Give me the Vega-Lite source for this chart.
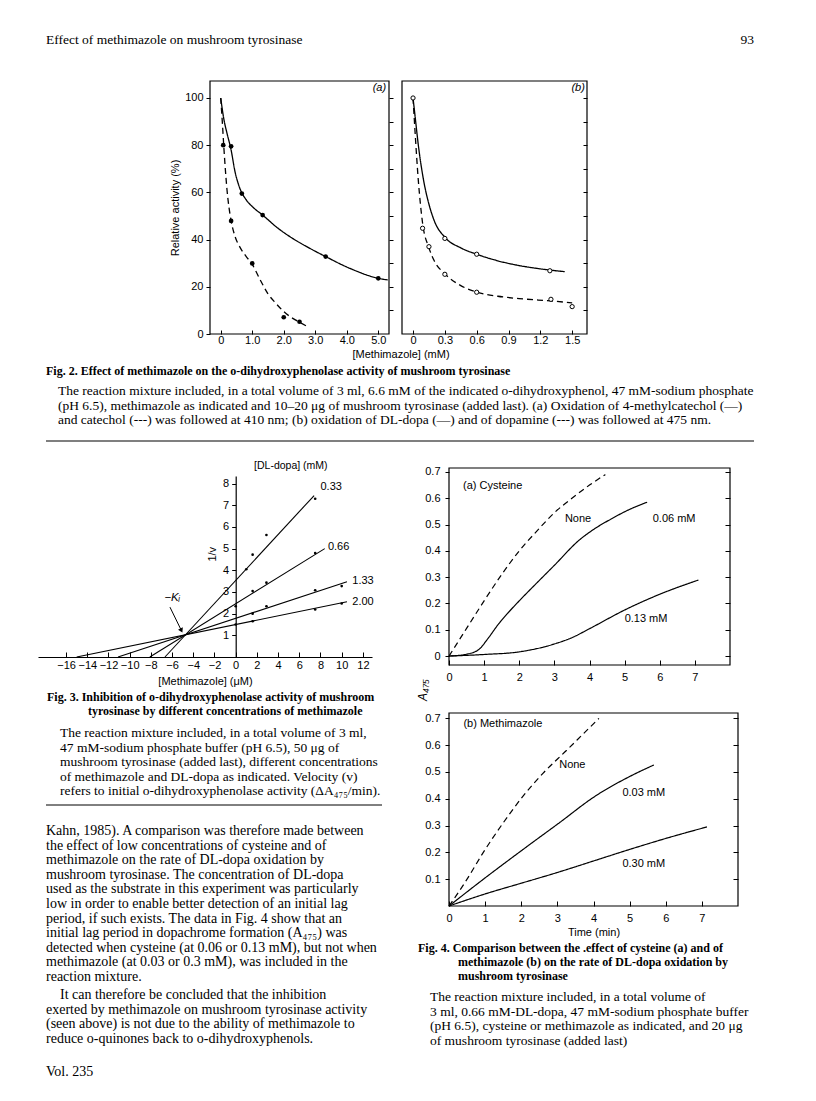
{
  "$schema": "https://vega.github.io/schema/vega-lite/v6.json",
  "background": "white",
  "padding": 0,
  "autosize": {"type": "none"},
  "width": 816,
  "height": 1101,
  "datasets": {
    "texts": [
      {"block": "hdr", "line": 0, "text": "Effect of methimazole on mushroom tyrosinase"},
      {"block": "pg", "line": 0, "text": "93"},
      {"block": "f2x", "line": 0, "text": "[Methimazole] (mM)"},
      {"block": "f2cap", "line": 0, "text": "Fig. 2. Effect of methimazole on the o-dihydroxyphenolase activity of mushroom tyrosinase"},
      {"block": "f2para", "line": 0, "text": "The reaction mixture included, in a total volume of 3 ml, 6.6 mM of the indicated o-dihydroxyphenol, 47 mM-sodium phosphate"},
      {"block": "f2para", "line": 1, "text": "(pH 6.5), methimazole as indicated and 10–20 μg of mushroom tyrosinase (added last). (a) Oxidation of 4-methylcatechol (—)"},
      {"block": "f2para", "line": 2, "text": "and catechol (---) was followed at 410 nm; (b) oxidation of DL-dopa (—) and of dopamine (---) was followed at 475 nm."},
      {"block": "f3capA", "line": 0, "text": "Fig. 3. Inhibition of o-dihydroxyphenolase activity of mushroom"},
      {"block": "f3capB", "line": 0, "text": "tyrosinase by different concentrations of methimazole"},
      {"block": "f3para", "line": 0, "text": "The reaction mixture included, in a total volume of 3 ml,"},
      {"block": "f3para", "line": 1, "text": "47 mM-sodium phosphate buffer (pH 6.5), 50 μg of"},
      {"block": "f3para", "line": 2, "text": "mushroom tyrosinase (added last), different concentrations"},
      {"block": "f3para", "line": 3, "text": "of methimazole and DL-dopa as indicated. Velocity (v)"},
      {"block": "f3para", "line": 4, "text": "refers to initial o-dihydroxyphenolase activity (ΔA₄₇₅/min)."},
      {"block": "b1", "line": 0, "text": "Kahn, 1985). A comparison was therefore made between"},
      {"block": "b1", "line": 1, "text": "the effect of low concentrations of cysteine and of"},
      {"block": "b1", "line": 2, "text": "methimazole on the rate of DL-dopa oxidation by"},
      {"block": "b1", "line": 3, "text": "mushroom tyrosinase. The concentration of DL-dopa"},
      {"block": "b1", "line": 4, "text": "used as the substrate in this experiment was particularly"},
      {"block": "b1", "line": 5, "text": "low in order to enable better detection of an initial lag"},
      {"block": "b1", "line": 6, "text": "period, if such exists. The data in Fig. 4 show that an"},
      {"block": "b1", "line": 7, "text": "initial lag period in dopachrome formation (A₄₇₅) was"},
      {"block": "b1", "line": 8, "text": "detected when cysteine (at 0.06 or 0.13 mM), but not when"},
      {"block": "b1", "line": 9, "text": "methimazole (at 0.03 or 0.3 mM), was included in the"},
      {"block": "b1", "line": 10, "text": "reaction mixture."},
      {"block": "b2i", "line": 0, "text": "It can therefore be concluded that the inhibition"},
      {"block": "b2", "line": 1, "text": "exerted by methimazole on mushroom tyrosinase activity"},
      {"block": "b2", "line": 2, "text": "(seen above) is not due to the ability of methimazole to"},
      {"block": "b2", "line": 3, "text": "reduce o-quinones back to o-dihydroxyphenols."},
      {"block": "vol", "line": 0, "text": "Vol. 235"},
      {"block": "f4capA", "line": 0, "text": "Fig. 4. Comparison between the .effect of cysteine (a) and of"},
      {"block": "f4capB", "line": 0, "text": "methimazole (b) on the rate of DL-dopa oxidation by"},
      {"block": "f4capB", "line": 1, "text": "mushroom tyrosinase"},
      {"block": "f4para", "line": 0, "text": "The reaction mixture included, in a total volume of"},
      {"block": "f4para", "line": 1, "text": "3 ml, 0.66 mM-DL-dopa, 47 mM-sodium phosphate buffer"},
      {"block": "f4para", "line": 2, "text": "(pH 6.5), cysteine or methimazole as indicated, and 20 μg"},
      {"block": "f4para", "line": 3, "text": "of mushroom tyrosinase (added last)"},
      {"block": "a475", "line": 0, "text": "A₄₇₅"}
    ],
    "fig2": [
      {"panel": "a", "series": "4-methylcatechol", "kind": "curve", "x": 0, "y": 100},
      {"panel": "a", "series": "4-methylcatechol", "kind": "curve", "x": 0.1, "y": 91},
      {"panel": "a", "series": "4-methylcatechol", "kind": "curve", "x": 0.2, "y": 85},
      {"panel": "a", "series": "4-methylcatechol", "kind": "curve", "x": 0.33, "y": 78},
      {"panel": "a", "series": "4-methylcatechol", "kind": "curve", "x": 0.45, "y": 69},
      {"panel": "a", "series": "4-methylcatechol", "kind": "curve", "x": 0.6, "y": 62},
      {"panel": "a", "series": "4-methylcatechol", "kind": "curve", "x": 0.8, "y": 57},
      {"panel": "a", "series": "4-methylcatechol", "kind": "curve", "x": 1.0, "y": 54},
      {"panel": "a", "series": "4-methylcatechol", "kind": "curve", "x": 1.33, "y": 50.4},
      {"panel": "a", "series": "4-methylcatechol", "kind": "curve", "x": 1.8, "y": 45},
      {"panel": "a", "series": "4-methylcatechol", "kind": "curve", "x": 2.2, "y": 41.2},
      {"panel": "a", "series": "4-methylcatechol", "kind": "curve", "x": 2.8, "y": 36.5},
      {"panel": "a", "series": "4-methylcatechol", "kind": "curve", "x": 3.33, "y": 32.8},
      {"panel": "a", "series": "4-methylcatechol", "kind": "curve", "x": 4.1, "y": 27.8},
      {"panel": "a", "series": "4-methylcatechol", "kind": "curve", "x": 5.0, "y": 23.6},
      {"panel": "a", "series": "4-methylcatechol", "kind": "curve", "x": 5.3, "y": 22.9},
      {"panel": "a", "series": "4-methylcatechol", "kind": "obs", "x": 0.33, "y": 79.5},
      {"panel": "a", "series": "4-methylcatechol", "kind": "obs", "x": 0.67, "y": 59.5},
      {"panel": "a", "series": "4-methylcatechol", "kind": "obs", "x": 1.33, "y": 50.4},
      {"panel": "a", "series": "4-methylcatechol", "kind": "obs", "x": 3.33, "y": 32.8},
      {"panel": "a", "series": "4-methylcatechol", "kind": "obs", "x": 5.0, "y": 23.6},
      {"panel": "a", "series": "catechol", "kind": "curve", "x": 0, "y": 100},
      {"panel": "a", "series": "catechol", "kind": "curve", "x": 0.05, "y": 90},
      {"panel": "a", "series": "catechol", "kind": "curve", "x": 0.1, "y": 79},
      {"panel": "a", "series": "catechol", "kind": "curve", "x": 0.2, "y": 61},
      {"panel": "a", "series": "catechol", "kind": "curve", "x": 0.33, "y": 48},
      {"panel": "a", "series": "catechol", "kind": "curve", "x": 0.45, "y": 41.5},
      {"panel": "a", "series": "catechol", "kind": "curve", "x": 0.6, "y": 37},
      {"panel": "a", "series": "catechol", "kind": "curve", "x": 0.8, "y": 33},
      {"panel": "a", "series": "catechol", "kind": "curve", "x": 1.0, "y": 29.5},
      {"panel": "a", "series": "catechol", "kind": "curve", "x": 1.25, "y": 23},
      {"panel": "a", "series": "catechol", "kind": "curve", "x": 1.5, "y": 17},
      {"panel": "a", "series": "catechol", "kind": "curve", "x": 1.75, "y": 13},
      {"panel": "a", "series": "catechol", "kind": "curve", "x": 2.0, "y": 9.5},
      {"panel": "a", "series": "catechol", "kind": "curve", "x": 2.3, "y": 6.5},
      {"panel": "a", "series": "catechol", "kind": "curve", "x": 2.5, "y": 5},
      {"panel": "a", "series": "catechol", "kind": "curve", "x": 2.8, "y": 2.8},
      {"panel": "a", "series": "catechol", "kind": "obs", "x": 0.08, "y": 80},
      {"panel": "a", "series": "catechol", "kind": "obs", "x": 0.33, "y": 47.9},
      {"panel": "a", "series": "catechol", "kind": "obs", "x": 1.0, "y": 29.9},
      {"panel": "a", "series": "catechol", "kind": "obs", "x": 2.0, "y": 7.1},
      {"panel": "a", "series": "catechol", "kind": "obs", "x": 2.5, "y": 5.2},
      {"panel": "b", "series": "DL-dopa", "kind": "curve", "x": 0, "y": 100},
      {"panel": "b", "series": "DL-dopa", "kind": "curve", "x": 0.02, "y": 92},
      {"panel": "b", "series": "DL-dopa", "kind": "curve", "x": 0.05, "y": 80},
      {"panel": "b", "series": "DL-dopa", "kind": "curve", "x": 0.1, "y": 65},
      {"panel": "b", "series": "DL-dopa", "kind": "curve", "x": 0.15, "y": 55},
      {"panel": "b", "series": "DL-dopa", "kind": "curve", "x": 0.2, "y": 48},
      {"panel": "b", "series": "DL-dopa", "kind": "curve", "x": 0.3, "y": 41},
      {"panel": "b", "series": "DL-dopa", "kind": "curve", "x": 0.45, "y": 36.5},
      {"panel": "b", "series": "DL-dopa", "kind": "curve", "x": 0.6, "y": 33.8},
      {"panel": "b", "series": "DL-dopa", "kind": "curve", "x": 0.8, "y": 31},
      {"panel": "b", "series": "DL-dopa", "kind": "curve", "x": 1.0, "y": 29},
      {"panel": "b", "series": "DL-dopa", "kind": "curve", "x": 1.2, "y": 27.6},
      {"panel": "b", "series": "DL-dopa", "kind": "curve", "x": 1.43, "y": 26.4},
      {"panel": "b", "series": "DL-dopa", "kind": "obs", "x": 0, "y": 100},
      {"panel": "b", "series": "DL-dopa", "kind": "obs", "x": 0.3, "y": 40.5},
      {"panel": "b", "series": "DL-dopa", "kind": "obs", "x": 0.6, "y": 33.8},
      {"panel": "b", "series": "DL-dopa", "kind": "obs", "x": 1.29, "y": 26.8},
      {"panel": "b", "series": "dopamine", "kind": "curve", "x": 0, "y": 100},
      {"panel": "b", "series": "dopamine", "kind": "curve", "x": 0.02, "y": 85},
      {"panel": "b", "series": "dopamine", "kind": "curve", "x": 0.05, "y": 65},
      {"panel": "b", "series": "dopamine", "kind": "curve", "x": 0.09, "y": 47},
      {"panel": "b", "series": "dopamine", "kind": "curve", "x": 0.15, "y": 36.5},
      {"panel": "b", "series": "dopamine", "kind": "curve", "x": 0.2, "y": 31},
      {"panel": "b", "series": "dopamine", "kind": "curve", "x": 0.3, "y": 25.5},
      {"panel": "b", "series": "dopamine", "kind": "curve", "x": 0.45, "y": 20.5},
      {"panel": "b", "series": "dopamine", "kind": "curve", "x": 0.6, "y": 17.8},
      {"panel": "b", "series": "dopamine", "kind": "curve", "x": 0.8, "y": 16},
      {"panel": "b", "series": "dopamine", "kind": "curve", "x": 1.0, "y": 15},
      {"panel": "b", "series": "dopamine", "kind": "curve", "x": 1.3, "y": 14},
      {"panel": "b", "series": "dopamine", "kind": "curve", "x": 1.5, "y": 13.2},
      {"panel": "b", "series": "dopamine", "kind": "obs", "x": 0.09, "y": 44.8},
      {"panel": "b", "series": "dopamine", "kind": "obs", "x": 0.15, "y": 37},
      {"panel": "b", "series": "dopamine", "kind": "obs", "x": 0.3, "y": 25.3},
      {"panel": "b", "series": "dopamine", "kind": "obs", "x": 0.6, "y": 17.7},
      {"panel": "b", "series": "dopamine", "kind": "obs", "x": 1.3, "y": 14.7},
      {"panel": "b", "series": "dopamine", "kind": "obs", "x": 1.5, "y": 11.6}
    ],
    "fig3lines": [
      {"conc": "0.33", "x": -6.67, "y": 0}, {"conc": "0.33", "x": 7.4, "y": 7.45},
      {"conc": "0.66", "x": -8.1, "y": 0}, {"conc": "0.66", "x": 8.4, "y": 5.0},
      {"conc": "1.33", "x": -11.1, "y": 0}, {"conc": "1.33", "x": 10.5, "y": 3.47},
      {"conc": "2.00", "x": -15.0, "y": 0}, {"conc": "2.00", "x": 10.5, "y": 2.55}
    ],
    "fig3obs": [
      {"conc": "0.33", "x": 1.0, "y": 4.05}, {"conc": "0.33", "x": 1.6, "y": 4.72}, {"conc": "0.33", "x": 2.9, "y": 5.63}, {"conc": "0.33", "x": 7.5, "y": 7.3},
      {"conc": "0.66", "x": 1.6, "y": 3.04}, {"conc": "0.66", "x": 2.9, "y": 3.43}, {"conc": "0.66", "x": 7.5, "y": 4.8},
      {"conc": "1.33", "x": 0, "y": 2.34}, {"conc": "1.33", "x": 1.6, "y": 2.0}, {"conc": "1.33", "x": 2.9, "y": 2.34}, {"conc": "1.33", "x": 7.5, "y": 3.08}, {"conc": "1.33", "x": 10, "y": 3.27},
      {"conc": "2.00", "x": 0, "y": 1.5}, {"conc": "2.00", "x": 1.6, "y": 1.65}, {"conc": "2.00", "x": 7.5, "y": 2.19}, {"conc": "2.00", "x": 10, "y": 2.47}
    ],
    "fig3lab": [
      {"text": "0.33", "x": 8.0, "y": 7.85},
      {"text": "0.66", "x": 8.7, "y": 5.07},
      {"text": "1.33", "x": 11.0, "y": 3.5},
      {"text": "2.00", "x": 11.0, "y": 2.56}
    ],
    "fig4": [
      {"panel": "a", "series": "None", "x": 0, "y": 0}, {"panel": "a", "series": "None", "x": 0.5, "y": 0.105}, {"panel": "a", "series": "None", "x": 1.0, "y": 0.21}, {"panel": "a", "series": "None", "x": 1.5, "y": 0.31}, {"panel": "a", "series": "None", "x": 2.0, "y": 0.4}, {"panel": "a", "series": "None", "x": 2.5, "y": 0.475}, {"panel": "a", "series": "None", "x": 3.0, "y": 0.545}, {"panel": "a", "series": "None", "x": 3.5, "y": 0.6}, {"panel": "a", "series": "None", "x": 4.0, "y": 0.65}, {"panel": "a", "series": "None", "x": 4.45, "y": 0.69},
      {"panel": "a", "series": "0.06 mM", "x": 0, "y": 0}, {"panel": "a", "series": "0.06 mM", "x": 0.5, "y": 0.007}, {"panel": "a", "series": "0.06 mM", "x": 0.85, "y": 0.025}, {"panel": "a", "series": "0.06 mM", "x": 1.1, "y": 0.065}, {"panel": "a", "series": "0.06 mM", "x": 1.4, "y": 0.12}, {"panel": "a", "series": "0.06 mM", "x": 1.7, "y": 0.167}, {"panel": "a", "series": "0.06 mM", "x": 2.0, "y": 0.21}, {"panel": "a", "series": "0.06 mM", "x": 2.5, "y": 0.278}, {"panel": "a", "series": "0.06 mM", "x": 3.0, "y": 0.345}, {"panel": "a", "series": "0.06 mM", "x": 3.7, "y": 0.44}, {"panel": "a", "series": "0.06 mM", "x": 4.1, "y": 0.48}, {"panel": "a", "series": "0.06 mM", "x": 4.6, "y": 0.52}, {"panel": "a", "series": "0.06 mM", "x": 5.1, "y": 0.555}, {"panel": "a", "series": "0.06 mM", "x": 5.64, "y": 0.585},
      {"panel": "a", "series": "0.13 mM", "x": 0, "y": 0}, {"panel": "a", "series": "0.13 mM", "x": 1.0, "y": 0.006}, {"panel": "a", "series": "0.13 mM", "x": 2.0, "y": 0.016}, {"panel": "a", "series": "0.13 mM", "x": 3.0, "y": 0.046}, {"panel": "a", "series": "0.13 mM", "x": 3.5, "y": 0.07}, {"panel": "a", "series": "0.13 mM", "x": 4.0, "y": 0.104}, {"panel": "a", "series": "0.13 mM", "x": 5.0, "y": 0.175}, {"panel": "a", "series": "0.13 mM", "x": 6.0, "y": 0.235}, {"panel": "a", "series": "0.13 mM", "x": 7.1, "y": 0.289},
      {"panel": "b", "series": "None", "x": 0, "y": 0}, {"panel": "b", "series": "None", "x": 0.5, "y": 0.1}, {"panel": "b", "series": "None", "x": 0.95, "y": 0.2}, {"panel": "b", "series": "None", "x": 1.5, "y": 0.31}, {"panel": "b", "series": "None", "x": 2.05, "y": 0.41}, {"panel": "b", "series": "None", "x": 2.6, "y": 0.495}, {"panel": "b", "series": "None", "x": 3.25, "y": 0.58}, {"panel": "b", "series": "None", "x": 3.7, "y": 0.64}, {"panel": "b", "series": "None", "x": 4.15, "y": 0.7},
      {"panel": "b", "series": "0.03 mM", "x": 0, "y": 0}, {"panel": "b", "series": "0.03 mM", "x": 1.05, "y": 0.11}, {"panel": "b", "series": "0.03 mM", "x": 2.05, "y": 0.211}, {"panel": "b", "series": "0.03 mM", "x": 3.05, "y": 0.31}, {"panel": "b", "series": "0.03 mM", "x": 4.05, "y": 0.41}, {"panel": "b", "series": "0.03 mM", "x": 5.0, "y": 0.483}, {"panel": "b", "series": "0.03 mM", "x": 5.67, "y": 0.526},
      {"panel": "b", "series": "0.30 mM", "x": 0, "y": 0}, {"panel": "b", "series": "0.30 mM", "x": 1.0, "y": 0.045}, {"panel": "b", "series": "0.30 mM", "x": 2.0, "y": 0.085}, {"panel": "b", "series": "0.30 mM", "x": 3.0, "y": 0.125}, {"panel": "b", "series": "0.30 mM", "x": 4.0, "y": 0.168}, {"panel": "b", "series": "0.30 mM", "x": 5.0, "y": 0.211}, {"panel": "b", "series": "0.30 mM", "x": 6.0, "y": 0.252}, {"panel": "b", "series": "0.30 mM", "x": 7.14, "y": 0.295}
    ],
    "fig4lab": [
      {"panel": "a", "text": "(a)    Cysteine", "x": 0.4, "y": 0.646},
      {"panel": "a", "text": "None", "x": 3.3, "y": 0.52},
      {"panel": "a", "text": "0.06 mM", "x": 5.8, "y": 0.52},
      {"panel": "a", "text": "0.13 mM", "x": 5.0, "y": 0.14},
      {"panel": "b", "text": "(b)    Methimazole", "x": 0.4, "y": 0.68},
      {"panel": "b", "text": "None", "x": 3.05, "y": 0.526},
      {"panel": "b", "text": "0.03 mM", "x": 4.8, "y": 0.421},
      {"panel": "b", "text": "0.30 mM", "x": 4.8, "y": 0.156}
    ]
  },
  "resolve": {"scale": {"x": "independent", "y": "independent", "strokeDash": "independent"}, "axis": {"x": "independent", "y": "independent"}},
  "layer": [
    {
      "data": {"name": "fig2"},
      "transform": [{"filter": "datum.panel === 'a'"}],
      "resolve": {"axis": {"x": "independent", "y": "independent"}},
      "layer": [
        {
          "transform": [{"filter": "datum.kind === 'curve'"}],
          "mark": {"type": "line", "interpolate": "monotone", "strokeWidth": 1.3, "color": "black"},
          "encoding": {
            "x": {"field": "x", "type": "quantitative", "scale": {"domain": [-0.34, 5.34], "range": [210, 389], "nice": false, "zero": false},
                  "axis": {"orient": "bottom", "offset": -767, "values": [0, 1, 2, 3, 4, 5], "labelExpr": "datum.value === 0 ? '0' : format(datum.value, '.1f')", "tickSize": -4, "labelPadding": 4.5, "domain": false, "title": null}},
            "y": {"field": "y", "type": "quantitative", "scale": {"domain": [0, 107.2], "range": [334, 81], "nice": false, "zero": false},
                  "axis": {"orient": "left", "offset": -210, "values": [0, 20, 40, 60, 80, 100], "tickSize": 4, "labelPadding": 3, "domain": false, "title": "Relative activity (%)", "titlePadding": 4}},
            "detail": {"field": "series"},
            "strokeDash": {"field": "series", "type": "nominal", "scale": {"domain": ["4-methylcatechol", "catechol"], "range": [[1, 0], [6, 4]]}, "legend": null}
          }
        },
        {
          "transform": [{"filter": "datum.kind === 'obs'"}],
          "mark": {"type": "point", "filled": true, "size": 22, "color": "black", "opacity": 1},
          "encoding": {
            "x": {"field": "x", "type": "quantitative", "axis": null},
            "y": {"field": "y", "type": "quantitative", "axis": null}
          }
        },
        {
          "mark": {"type": "point", "opacity": 0},
          "encoding": {
            "y": {"field": "y", "type": "quantitative", "axis": {"orient": "right", "offset": -427, "values": [10, 20, 30, 40, 50, 60, 70, 80, 90, 100], "labels": false, "tickSize": 4, "domain": false, "title": null}}
          }
        },
        {
          "data": {"values": [{"t": "(a)"}]},
          "mark": {"type": "text", "font": "Liberation Sans", "fontSize": 11, "fontStyle": "italic", "align": "right", "baseline": "middle"},
          "encoding": {
            "x": {"datum": 5.25, "type": "quantitative", "axis": null},
            "y": {"datum": 104.3, "type": "quantitative", "axis": null},
            "text": {"field": "t"}
          }
        },
        {
          "data": {"values": [{"f": 1}]},
          "mark": {"type": "rect", "filled": false, "stroke": "black", "strokeWidth": 1.2},
          "encoding": {
            "x": {"datum": -0.34, "type": "quantitative", "axis": null},
            "x2": {"datum": 5.34},
            "y": {"datum": 0, "type": "quantitative", "axis": null},
            "y2": {"datum": 107.2}
          }
        }
      ]
    },
    {
      "data": {"name": "fig2"},
      "transform": [{"filter": "datum.panel === 'b'"}],
      "resolve": {"axis": {"x": "independent", "y": "independent"}},
      "layer": [
        {
          "transform": [{"filter": "datum.kind === 'curve'"}],
          "mark": {"type": "line", "interpolate": "monotone", "strokeWidth": 1.3, "color": "black"},
          "encoding": {
            "x": {"field": "x", "type": "quantitative", "scale": {"domain": [-0.104, 1.64], "range": [402, 587], "nice": false, "zero": false},
                  "axis": {"orient": "bottom", "offset": -767, "values": [0, 0.3, 0.6, 0.9, 1.2, 1.5], "labelExpr": "datum.value === 0 ? '0' : format(datum.value, '.1f')", "tickSize": -4, "labelPadding": 4.5, "domain": false, "title": null}},
            "y": {"field": "y", "type": "quantitative", "scale": {"domain": [0, 107.2], "range": [334, 81], "nice": false, "zero": false},
                  "axis": {"orient": "right", "offset": -229, "values": [10, 20, 30, 40, 50, 60, 70, 80, 90, 100], "labels": false, "tickSize": -4, "domain": false, "title": null}},
            "detail": {"field": "series"},
            "strokeDash": {"field": "series", "type": "nominal", "scale": {"domain": ["DL-dopa", "dopamine"], "range": [[1, 0], [6, 4]]}, "legend": null}
          }
        },
        {
          "transform": [{"filter": "datum.kind === 'obs'"}],
          "mark": {"type": "point", "filled": true, "fill": "white", "stroke": "black", "strokeWidth": 1, "size": 18, "opacity": 1},
          "encoding": {
            "x": {"field": "x", "type": "quantitative", "axis": null},
            "y": {"field": "y", "type": "quantitative", "axis": null}
          }
        },
        {
          "data": {"values": [{"t": "(b)"}]},
          "mark": {"type": "text", "font": "Liberation Sans", "fontSize": 11, "fontStyle": "italic", "align": "right", "baseline": "middle"},
          "encoding": {
            "x": {"datum": 1.62, "type": "quantitative", "axis": null},
            "y": {"datum": 104.3, "type": "quantitative", "axis": null},
            "text": {"field": "t"}
          }
        },
        {
          "data": {"values": [{"f": 1}]},
          "mark": {"type": "rect", "filled": false, "stroke": "black", "strokeWidth": 1.2},
          "encoding": {
            "x": {"datum": -0.104, "type": "quantitative", "axis": null},
            "x2": {"datum": 1.64},
            "y": {"datum": 0, "type": "quantitative", "axis": null},
            "y2": {"datum": 107.2}
          }
        }
      ]
    },
    {
      "resolve": {"axis": {"x": "independent", "y": "independent"}},
      "layer": [
        {
          "data": {"name": "fig3lines"},
          "mark": {"type": "line", "strokeWidth": 1.1, "color": "black"},
          "encoding": {
            "x": {"field": "x", "type": "quantitative", "scale": {"domain": [-18.65, 12.86], "range": [38, 372], "nice": false, "zero": false},
                  "axis": {"orient": "bottom", "offset": -444, "values": [-16, -14, -12, -10, -8, -6, -4, -2, 0, 2, 4, 6, 8, 10, 12], "tickSize": -5, "labelPadding": 7, "title": "[Methimazole] (μM)", "titlePadding": 5}},
            "y": {"field": "y", "type": "quantitative", "scale": {"domain": [0, 8.35], "range": [657, 476], "nice": false, "zero": false},
                  "axis": {"orient": "left", "offset": -235.7, "values": [1, 2, 3, 4, 5, 6, 7, 8], "tickSize": 4, "labelPadding": 3, "title": null}},
            "detail": {"field": "conc"}
          }
        },
        {
          "data": {"name": "fig3obs"},
          "mark": {"type": "point", "filled": true, "size": 7, "color": "black", "opacity": 1},
          "encoding": {
            "x": {"field": "x", "type": "quantitative", "axis": null},
            "y": {"field": "y", "type": "quantitative", "axis": null}
          }
        },
        {
          "data": {"name": "fig3lab"},
          "mark": {"type": "text", "align": "left", "baseline": "middle", "font": "Liberation Sans", "fontSize": 11},
          "encoding": {
            "x": {"field": "x", "type": "quantitative", "axis": null},
            "y": {"field": "y", "type": "quantitative", "axis": null},
            "text": {"field": "text"}
          }
        },
        {
          "data": {"values": [{"t": "[DL-dopa] (mM)"}]},
          "mark": {"type": "text", "align": "center", "baseline": "middle", "font": "Liberation Sans", "fontSize": 10.5},
          "encoding": {
            "x": {"datum": 5.2, "type": "quantitative", "axis": null},
            "y": {"datum": 8.8, "type": "quantitative", "axis": null},
            "text": {"field": "t"}
          }
        },
        {
          "data": {"values": [{"t": "1/v"}]},
          "mark": {"type": "text", "align": "center", "baseline": "middle", "font": "Liberation Sans", "fontSize": 11, "angle": 270},
          "encoding": {
            "x": {"datum": -2.1, "type": "quantitative", "axis": null},
            "y": {"datum": 4.74, "type": "quantitative", "axis": null},
            "text": {"field": "t"}
          }
        },
        {
          "data": {"values": [{"t": "−Kᵢ"}]},
          "mark": {"type": "text", "align": "center", "baseline": "middle", "font": "Liberation Sans", "fontSize": 11.5, "fontStyle": "italic"},
          "encoding": {
            "x": {"datum": -6.0, "type": "quantitative", "axis": null},
            "y": {"datum": 2.7, "type": "quantitative", "axis": null},
            "text": {"field": "t"}
          }
        },
        {
          "data": {"values": [{"a": 1}]},
          "mark": {"type": "rule", "strokeWidth": 1, "color": "black"},
          "encoding": {
            "x": {"datum": -6.2, "type": "quantitative", "axis": null},
            "y": {"datum": 2.3, "type": "quantitative", "axis": null},
            "x2": {"datum": -5.15},
            "y2": {"datum": 1.25}
          }
        },
        {
          "data": {"values": [{"a": 1}]},
          "mark": {"type": "point", "shape": "triangle-up", "filled": true, "size": 28, "angle": 154, "color": "black", "opacity": 1},
          "encoding": {
            "x": {"datum": -5.12, "type": "quantitative", "axis": null},
            "y": {"datum": 1.22, "type": "quantitative", "axis": null}
          }
        }
      ]
    },
    {
      "resolve": {"axis": {"x": "independent", "y": "independent"}},
      "layer": [
        {
          "data": {"name": "fig4"},
          "transform": [{"filter": "datum.panel === 'a'"}],
          "mark": {"type": "line", "interpolate": "monotone", "strokeWidth": 1.2, "color": "black"},
          "encoding": {
            "x": {"field": "x", "type": "quantitative", "scale": {"domain": [0, 8], "range": [449, 730], "nice": false, "zero": false},
                  "axis": {"orient": "bottom", "offset": -436, "values": [0, 1, 2, 3, 4, 5, 6, 7], "tickSize": -5, "labelPadding": 11, "domain": false, "title": null}},
            "y": {"field": "y", "type": "quantitative", "scale": {"domain": [-0.034, 0.715], "range": [665, 468], "nice": false, "zero": false},
                  "axis": {"orient": "left", "offset": -449, "values": [0, 0.1, 0.2, 0.3, 0.4, 0.5, 0.6, 0.7], "labelExpr": "datum.value === 0 ? '0' : format(datum.value, '.1f')", "tickSize": 4, "labelPadding": 5, "domain": false, "title": null}},
            "detail": {"field": "series"},
            "strokeDash": {"field": "series", "type": "nominal", "scale": {"domain": ["None", "0.06 mM", "0.13 mM"], "range": [[6, 4], [1, 0], [1, 0]]}, "legend": null}
          }
        },
        {
          "data": {"name": "fig4"},
          "transform": [{"filter": "datum.panel === 'a'"}],
          "mark": {"type": "point", "opacity": 0},
          "encoding": {
            "y": {"field": "y", "type": "quantitative", "axis": {"orient": "right", "offset": -86, "values": [0, 0.1, 0.2, 0.3, 0.4, 0.5, 0.6, 0.7], "labels": false, "tickSize": -5, "domain": false, "title": null}}
          }
        },
        {
          "data": {"name": "fig4lab"},
          "transform": [{"filter": "datum.panel === 'a'"}],
          "mark": {"type": "text", "align": "left", "baseline": "middle", "font": "Liberation Sans", "fontSize": 11},
          "encoding": {
            "x": {"field": "x", "type": "quantitative", "axis": null},
            "y": {"field": "y", "type": "quantitative", "axis": null},
            "text": {"field": "text"}
          }
        },
        {
          "data": {"values": [{"f": 1}]},
          "mark": {"type": "rect", "filled": false, "stroke": "black", "strokeWidth": 1.2},
          "encoding": {
            "x": {"datum": 0, "type": "quantitative", "axis": null},
            "x2": {"datum": 8},
            "y": {"datum": -0.034, "type": "quantitative", "axis": null},
            "y2": {"datum": 0.715}
          }
        }
      ]
    },
    {
      "resolve": {"axis": {"x": "independent", "y": "independent"}},
      "layer": [
        {
          "data": {"name": "fig4"},
          "transform": [{"filter": "datum.panel === 'b'"}],
          "mark": {"type": "line", "interpolate": "monotone", "strokeWidth": 1.2, "color": "black"},
          "encoding": {
            "x": {"field": "x", "type": "quantitative", "scale": {"domain": [0, 8], "range": [449, 738], "nice": false, "zero": false},
                  "axis": {"orient": "bottom", "offset": -195, "values": [0, 1, 2, 3, 4, 5, 6, 7], "tickSize": -5, "labelPadding": 11, "domain": false, "title": "Time (min)", "titlePadding": 3}},
            "y": {"field": "y", "type": "quantitative", "scale": {"domain": [0, 0.72], "range": [906, 713], "nice": false, "zero": false},
                  "axis": {"orient": "left", "offset": -449, "values": [0.1, 0.2, 0.3, 0.4, 0.5, 0.6, 0.7], "labelExpr": "format(datum.value, '.1f')", "tickSize": 4, "labelPadding": 5, "domain": false, "title": null}},
            "detail": {"field": "series"},
            "strokeDash": {"field": "series", "type": "nominal", "scale": {"domain": ["None", "0.03 mM", "0.30 mM"], "range": [[6, 4], [1, 0], [1, 0]]}, "legend": null}
          }
        },
        {
          "data": {"name": "fig4"},
          "transform": [{"filter": "datum.panel === 'b'"}],
          "mark": {"type": "point", "opacity": 0},
          "encoding": {
            "y": {"field": "y", "type": "quantitative", "axis": {"orient": "right", "offset": -78, "values": [0.1, 0.2, 0.3, 0.4, 0.5, 0.6, 0.7], "labels": false, "tickSize": -5, "domain": false, "title": null}}
          }
        },
        {
          "data": {"name": "fig4lab"},
          "transform": [{"filter": "datum.panel === 'b'"}],
          "mark": {"type": "text", "align": "left", "baseline": "middle", "font": "Liberation Sans", "fontSize": 11},
          "encoding": {
            "x": {"field": "x", "type": "quantitative", "axis": null},
            "y": {"field": "y", "type": "quantitative", "axis": null},
            "text": {"field": "text"}
          }
        },
        {
          "data": {"values": [{"f": 1}]},
          "mark": {"type": "rect", "filled": false, "stroke": "black", "strokeWidth": 1.2},
          "encoding": {
            "x": {"datum": 0, "type": "quantitative", "axis": null},
            "x2": {"datum": 8},
            "y": {"datum": 0, "type": "quantitative", "axis": null},
            "y2": {"datum": 0.72}
          }
        }
      ]
    },
    {
      "data": {"name": "texts"},
      "transform": [{"filter": "datum.block === 'hdr'"}],
      "mark": {"type": "text", "align": "left", "baseline": "middle", "font": "Liberation Serif", "fontSize": 13.5},
      "encoding": {
        "x": {"datum": 0, "type": "quantitative", "scale": {"domain": [0, 1], "range": [46, 47]}, "axis": null},
        "y": {"field": "line", "type": "quantitative", "scale": {"domain": [0, 1], "range": [40, 54.6]}, "axis": null},
        "text": {"field": "text"}
      }
    },
    {
      "data": {"name": "texts"},
      "transform": [{"filter": "datum.block === 'pg'"}],
      "mark": {"type": "text", "align": "right", "baseline": "middle", "font": "Liberation Serif", "fontSize": 13.5},
      "encoding": {
        "x": {"datum": 0, "type": "quantitative", "scale": {"domain": [0, 1], "range": [754, 755]}, "axis": null},
        "y": {"field": "line", "type": "quantitative", "scale": {"domain": [0, 1], "range": [40, 54.6]}, "axis": null},
        "text": {"field": "text"}
      }
    },
    {
      "data": {"name": "texts"},
      "transform": [{"filter": "datum.block === 'f2x'"}],
      "mark": {"type": "text", "align": "center", "baseline": "middle", "font": "Liberation Sans", "fontSize": 11},
      "encoding": {
        "x": {"datum": 0, "type": "quantitative", "scale": {"domain": [0, 1], "range": [401, 402]}, "axis": null},
        "y": {"field": "line", "type": "quantitative", "scale": {"domain": [0, 1], "range": [355, 369.6]}, "axis": null},
        "text": {"field": "text"}
      }
    },
    {
      "data": {"name": "texts"},
      "transform": [{"filter": "datum.block === 'f2cap'"}],
      "mark": {"type": "text", "align": "left", "baseline": "middle", "font": "Liberation Serif", "fontSize": 12, "fontWeight": "bold"},
      "encoding": {
        "x": {"datum": 0, "type": "quantitative", "scale": {"domain": [0, 1], "range": [46, 47]}, "axis": null},
        "y": {"field": "line", "type": "quantitative", "scale": {"domain": [0, 1], "range": [371, 385.6]}, "axis": null},
        "text": {"field": "text"}
      }
    },
    {
      "data": {"name": "texts"},
      "transform": [{"filter": "datum.block === 'f2para'"}],
      "mark": {"type": "text", "align": "left", "baseline": "middle", "font": "Liberation Serif", "fontSize": 13.5},
      "encoding": {
        "x": {"datum": 0, "type": "quantitative", "scale": {"domain": [0, 1], "range": [58, 59]}, "axis": null},
        "y": {"field": "line", "type": "quantitative", "scale": {"domain": [0, 1], "range": [391, 405.6]}, "axis": null},
        "text": {"field": "text"}
      }
    },
    {
      "data": {"values": [{"r": 1}]},
      "mark": {"type": "rule", "strokeWidth": 1.2, "color": "black"},
      "encoding": {
        "x": {"datum": 0, "type": "quantitative", "scale": {"domain": [0, 1], "range": [46, 754]}, "axis": null},
        "x2": {"datum": 1},
        "y": {"datum": 0, "type": "quantitative", "scale": {"domain": [0, 1], "range": [441, 442]}, "axis": null}
      }
    },
    {
      "data": {"name": "texts"},
      "transform": [{"filter": "datum.block === 'f3capA'"}],
      "mark": {"type": "text", "align": "left", "baseline": "middle", "font": "Liberation Serif", "fontSize": 12, "fontWeight": "bold"},
      "encoding": {
        "x": {"datum": 0, "type": "quantitative", "scale": {"domain": [0, 1], "range": [47, 48]}, "axis": null},
        "y": {"field": "line", "type": "quantitative", "scale": {"domain": [0, 1], "range": [697, 711]}, "axis": null},
        "text": {"field": "text"}
      }
    },
    {
      "data": {"name": "texts"},
      "transform": [{"filter": "datum.block === 'f3capB'"}],
      "mark": {"type": "text", "align": "left", "baseline": "middle", "font": "Liberation Serif", "fontSize": 12, "fontWeight": "bold"},
      "encoding": {
        "x": {"datum": 0, "type": "quantitative", "scale": {"domain": [0, 1], "range": [88, 89]}, "axis": null},
        "y": {"field": "line", "type": "quantitative", "scale": {"domain": [0, 1], "range": [711, 725]}, "axis": null},
        "text": {"field": "text"}
      }
    },
    {
      "data": {"name": "texts"},
      "transform": [{"filter": "datum.block === 'f3para'"}],
      "mark": {"type": "text", "align": "left", "baseline": "middle", "font": "Liberation Serif", "fontSize": 13.5},
      "encoding": {
        "x": {"datum": 0, "type": "quantitative", "scale": {"domain": [0, 1], "range": [60, 61]}, "axis": null},
        "y": {"field": "line", "type": "quantitative", "scale": {"domain": [0, 1], "range": [733, 747.6]}, "axis": null},
        "text": {"field": "text"}
      }
    },
    {
      "data": {"values": [{"r": 1}]},
      "mark": {"type": "rule", "strokeWidth": 1, "color": "black"},
      "encoding": {
        "x": {"datum": 0, "type": "quantitative", "scale": {"domain": [0, 1], "range": [46, 382]}, "axis": null},
        "x2": {"datum": 1},
        "y": {"datum": 0, "type": "quantitative", "scale": {"domain": [0, 1], "range": [805, 806]}, "axis": null}
      }
    },
    {
      "data": {"name": "texts"},
      "transform": [{"filter": "datum.block === 'b1'"}],
      "mark": {"type": "text", "align": "left", "baseline": "middle", "font": "Liberation Serif", "fontSize": 14},
      "encoding": {
        "x": {"datum": 0, "type": "quantitative", "scale": {"domain": [0, 1], "range": [46, 47]}, "axis": null},
        "y": {"field": "line", "type": "quantitative", "scale": {"domain": [0, 1], "range": [831, 845.6]}, "axis": null},
        "text": {"field": "text"}
      }
    },
    {
      "data": {"name": "texts"},
      "transform": [{"filter": "datum.block === 'b2i'"}],
      "mark": {"type": "text", "align": "left", "baseline": "middle", "font": "Liberation Serif", "fontSize": 14},
      "encoding": {
        "x": {"datum": 0, "type": "quantitative", "scale": {"domain": [0, 1], "range": [60, 61]}, "axis": null},
        "y": {"field": "line", "type": "quantitative", "scale": {"domain": [0, 1], "range": [995, 1009.6]}, "axis": null},
        "text": {"field": "text"}
      }
    },
    {
      "data": {"name": "texts"},
      "transform": [{"filter": "datum.block === 'b2'"}],
      "mark": {"type": "text", "align": "left", "baseline": "middle", "font": "Liberation Serif", "fontSize": 14},
      "encoding": {
        "x": {"datum": 0, "type": "quantitative", "scale": {"domain": [0, 1], "range": [46, 47]}, "axis": null},
        "y": {"field": "line", "type": "quantitative", "scale": {"domain": [0, 1], "range": [995, 1009.6]}, "axis": null},
        "text": {"field": "text"}
      }
    },
    {
      "data": {"name": "texts"},
      "transform": [{"filter": "datum.block === 'vol'"}],
      "mark": {"type": "text", "align": "left", "baseline": "middle", "font": "Liberation Serif", "fontSize": 14},
      "encoding": {
        "x": {"datum": 0, "type": "quantitative", "scale": {"domain": [0, 1], "range": [46, 47]}, "axis": null},
        "y": {"field": "line", "type": "quantitative", "scale": {"domain": [0, 1], "range": [1072, 1086.6]}, "axis": null},
        "text": {"field": "text"}
      }
    },
    {
      "data": {"name": "texts"},
      "transform": [{"filter": "datum.block === 'f4capA'"}],
      "mark": {"type": "text", "align": "left", "baseline": "middle", "font": "Liberation Serif", "fontSize": 12, "fontWeight": "bold"},
      "encoding": {
        "x": {"datum": 0, "type": "quantitative", "scale": {"domain": [0, 1], "range": [418, 419]}, "axis": null},
        "y": {"field": "line", "type": "quantitative", "scale": {"domain": [0, 1], "range": [948, 962]}, "axis": null},
        "text": {"field": "text"}
      }
    },
    {
      "data": {"name": "texts"},
      "transform": [{"filter": "datum.block === 'f4capB'"}],
      "mark": {"type": "text", "align": "left", "baseline": "middle", "font": "Liberation Serif", "fontSize": 12, "fontWeight": "bold"},
      "encoding": {
        "x": {"datum": 0, "type": "quantitative", "scale": {"domain": [0, 1], "range": [458, 459]}, "axis": null},
        "y": {"field": "line", "type": "quantitative", "scale": {"domain": [0, 1], "range": [962, 976]}, "axis": null},
        "text": {"field": "text"}
      }
    },
    {
      "data": {"name": "texts"},
      "transform": [{"filter": "datum.block === 'f4para'"}],
      "mark": {"type": "text", "align": "left", "baseline": "middle", "font": "Liberation Serif", "fontSize": 13.5},
      "encoding": {
        "x": {"datum": 0, "type": "quantitative", "scale": {"domain": [0, 1], "range": [430, 431]}, "axis": null},
        "y": {"field": "line", "type": "quantitative", "scale": {"domain": [0, 1], "range": [997, 1011.6]}, "axis": null},
        "text": {"field": "text"}
      }
    },
    {
      "data": {"name": "texts"},
      "transform": [{"filter": "datum.block === 'a475'"}],
      "mark": {"type": "text", "align": "center", "baseline": "middle", "angle": 270, "font": "Liberation Sans", "fontSize": 12, "fontStyle": "italic"},
      "encoding": {
        "x": {"datum": 0, "type": "quantitative", "scale": {"domain": [0, 1], "range": [423, 424]}, "axis": null},
        "y": {"field": "line", "type": "quantitative", "scale": {"domain": [0, 1], "range": [690, 704]}, "axis": null},
        "text": {"field": "text"}
      }
    }
  ],
  "config": {
    "view": {"stroke": null},
    "axis": {"labelFont": "Liberation Sans", "labelFontSize": 11, "labelColor": "black", "tickColor": "black", "domainColor": "black", "titleFont": "Liberation Sans", "titleFontSize": 11, "titleFontWeight": "normal", "titleColor": "black", "grid": false, "tickWidth": 1, "domainWidth": 1.2, "labelFlush": false, "labelOverlap": false},
    "text": {"color": "black"},
    "line": {"color": "black"},
    "point": {"color": "black"},
    "rule": {"color": "black"}
  }
}
